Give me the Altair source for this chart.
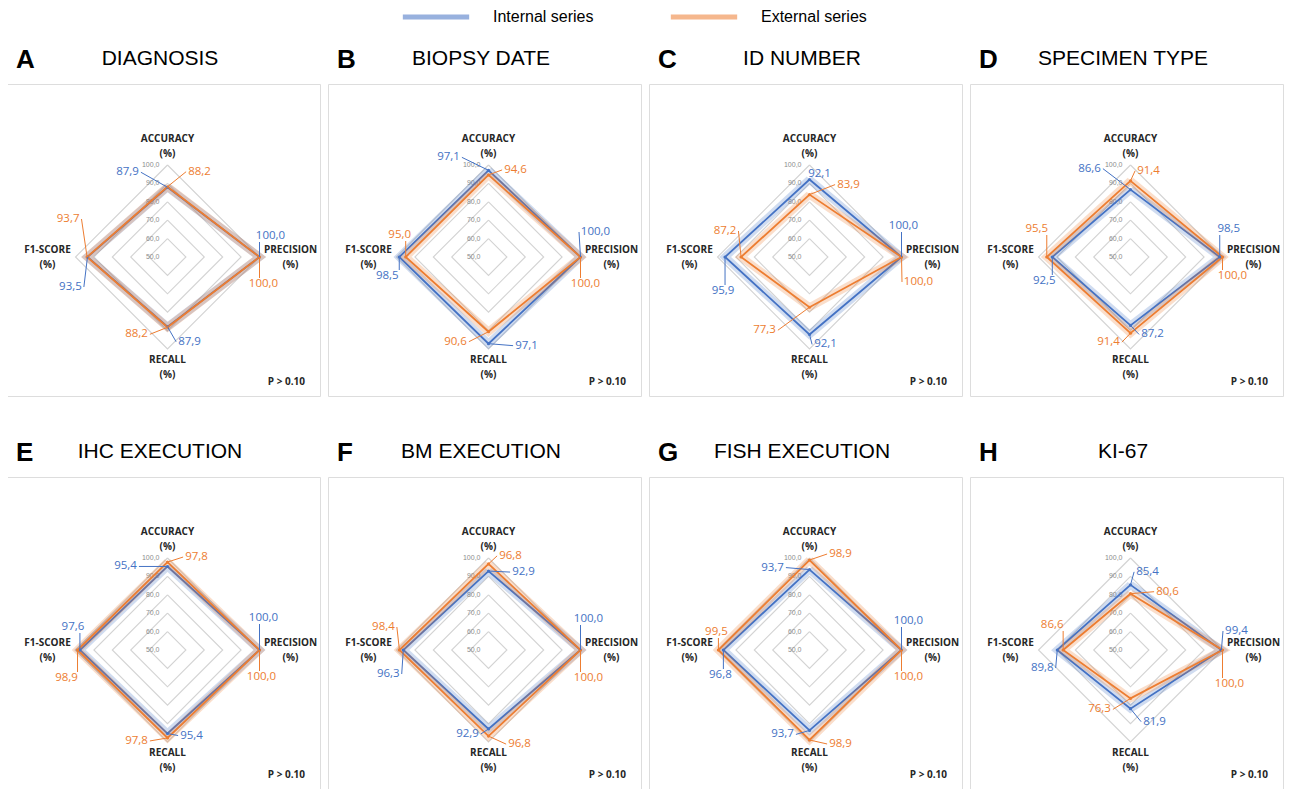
import altair as alt
import pandas as pd

# ---------------- data ----------------
PANEL_LETTERS = ["A", "B", "C", "D", "E", "F", "G", "H"]
PANEL_TITLES = ["DIAGNOSIS", "BIOPSY DATE", "ID NUMBER", "SPECIMEN TYPE",
                "IHC EXECUTION", "BM EXECUTION", "FISH EXECUTION", "KI-67"]
METRICS = ["ACCURACY", "PRECISION", "RECALL", "F1-SCORE"]
SERIES = ["Internal series", "External series"]
INTERNAL = [
    [87.9, 100.0, 87.9, 93.5],
    [97.1, 100.0, 97.1, 98.5],
    [92.1, 100.0, 92.1, 95.9],
    [86.6, 98.5, 87.2, 92.5],
    [95.4, 100.0, 95.4, 97.6],
    [92.9, 100.0, 92.9, 96.3],
    [93.7, 100.0, 93.7, 96.8],
    [85.4, 99.4, 81.9, 89.8],
]
EXTERNAL = [
    [88.2, 100.0, 88.2, 93.7],
    [94.6, 100.0, 90.6, 95.0],
    [83.9, 100.0, 77.3, 87.2],
    [91.4, 100.0, 91.4, 95.5],
    [97.8, 100.0, 97.8, 98.9],
    [96.8, 100.0, 96.8, 98.4],
    [98.9, 100.0, 98.9, 99.5],
    [80.6, 100.0, 76.3, 86.6],
]
P_TEXT = ["P > 0.10"] * 8
RING_LEVELS = [60, 70, 80, 90, 100]
RING_TICKS = [50, 60, 70, 80, 90, 100]
R_MIN = 50

# ---------------- layout / style (not data) ----------------
COLORS = ["#4472C4", "#ED7D31"]
W, H = 313, 312          # panel plot area (px)
CX, CY = 160.5, 173      # radar centre inside panel (px)
PXU = 1.84               # px per value unit
DIR_X = [0, 1, 0, -1]
DIR_Y = [1, 0, -1, 0]
# value-label offsets in px (dx, dy) from each point: [ACC, PREC, REC, F1]
LBL_INT = [
    [(-40, -15), (11, -21), (22, 15), (-17, 30)],
    [(-40, -13), (15, -25), (38, 2), (-12, 19)],
    [(10, -6), (2, -31), (16, 10), (-2, 34)],
    [(-41, -21), (9, -28), (22, 9), (-8, 24)],
    [(-42, 0), (4, -32), (24, 2), (-7, -23)],
    [(35, 1), (8, -31), (-21, 5), (-15, 24)],
    [(-37, -2), (7, -29), (-27, 4), (-3, 25)],
    [(17, -13), (15, -19), (24, 13), (-15, 18)],
]
LBL_EXT = [
    [(32, -15), (4, 27), (-31, 7), (-19, -38)],
    [(27, -5), (5, 27), (-33, 10), (-6, -22)],
    [(39, -10), (17, 25), (-45, 23), (-16, -26)],
    [(18, -10), (10, 19), (-22, 9), (-10, -28)],
    [(29, -5), (2, 27), (-31, 3), (-11, 28)],
    [(22, -8), (8, 28), (31, 8), (-16, -23)],
    [(31, -6), (7, 27), (31, 4), (-2, -18)],
    [(37, -2), (7, 34), (-31, 11), (-11, -25)],
]
# first-line anchor of each two-line axis label (px from radar centre)
AXIS_LBL_PX = [(0, -118), (123, -7), (0, 103), (-120, -7)]
PVAL_PX = (137.5, 125)

XS = alt.Scale(domain=[-CX / PXU, (W - CX) / PXU], nice=False, zero=False)
YS = alt.Scale(domain=[-(H - CY) / PXU, CY / PXU], nice=False, zero=False)

LEG = alt.Legend(title=None, orient="none", legendX=393, legendY=-103,
                 direction="horizontal", symbolType="stroke", symbolStrokeWidth=5,
                 symbolSize=4400, symbolOpacity=0.55, labelFontSize=16,
                 labelFont="Liberation Sans", labelColor="#000000", labelOffset=21,
                 columnPadding=66, padding=0)
COLOR = alt.Color("series:N", scale=alt.Scale(domain=SERIES, range=COLORS), legend=LEG)


def fmt(v):
    return f"{v:.1f}".replace(".", ",")


def sgn(v):
    return 1 if v > 0 else (-1 if v < 0 else 0)


grid_rows = []
for lev in RING_LEVELS:
    for k in range(5):
        m = k % 4
        grid_rows.append({"level": lev, "k": k,
                          "x": (lev - R_MIN) * DIR_X[m], "y": (lev - R_MIN) * DIR_Y[m]})
grid_df = pd.DataFrame(grid_rows)
tick_df = pd.DataFrame({"x": [0] * len(RING_TICKS),
                        "y": [t - R_MIN for t in RING_TICKS],
                        "lab": [fmt(t) for t in RING_TICKS]})
axis_df = pd.DataFrame({
    "x": [p[0] / PXU for p in AXIS_LBL_PX],
    "y": [-p[1] / PXU for p in AXIS_LBL_PX],
    "lab": [m + "\n(%)" for m in METRICS],
})


def X(f="x"):
    return alt.X(f"{f}:Q", scale=XS, axis=None)


def Y(f="y"):
    return alt.Y(f"{f}:Q", scale=YS, axis=None)


def panel(i):
    rows, poly = [], []
    for s, vals, offs in ((SERIES[0], INTERNAL[i], LBL_INT[i]), (SERIES[1], EXTERNAL[i], LBL_EXT[i])):
        for m, v in enumerate(vals):
            x = (v - R_MIN) * DIR_X[m]
            y = (v - R_MIN) * DIR_Y[m]
            dx, dy = offs[m]
            lab = fmt(v)
            hw = len(lab) * 3.1 + 1
            if abs(dx) >= 14:
                ex_px, ey_px = dx - sgn(dx) * hw, dy
            else:
                ex_px, ey_px = 0, dy - sgn(dy) * 6
            rows.append({"series": s, "metric": METRICS[m], "value": v, "x": x, "y": y,
                         "lx": x + dx / PXU, "ly": y - dy / PXU,
                         "ex": x + ex_px / PXU, "ey": y - ey_px / PXU, "lab": lab})
        for k in range(5):
            m = k % 4
            v = vals[m]
            poly.append({"series": s, "k": k, "x": (v - R_MIN) * DIR_X[m], "y": (v - R_MIN) * DIR_Y[m]})
    pts = pd.DataFrame(rows)
    poly = pd.DataFrame(poly)

    grid = alt.Chart(grid_df).mark_line(color="#D3D3D3", strokeWidth=1.1).encode(
        x=X(), y=Y(), detail="level:N", order="k:Q")
    ticks = alt.Chart(tick_df).mark_text(align="right", baseline="middle", dx=-8, fontSize=7,
                                         color="#8C8C8C", font="Liberation Sans").encode(
        x=X(), y=Y(), text="lab:N")
    axl = alt.Chart(axis_df).mark_text(align="center", baseline="middle", lineBreak="\n",
                                       lineHeight=15, fontSize=10, fontWeight="bold",
                                       font="Open Sans", color="#262626").encode(
        x=X(), y=Y(), text="lab:N")
    layers = [grid, ticks, axl]
    for s in SERIES:
        pl = poly[poly.series == s]
        layers.append(alt.Chart(pl).mark_line(strokeWidth=8, opacity=0.25, strokeJoin="miter").encode(
            x=X(), y=Y(), order="k:Q", color=COLOR))
        layers.append(alt.Chart(pl).mark_line(strokeWidth=1.8, strokeJoin="miter").encode(
            x=X(), y=Y(), order="k:Q", color=COLOR))
    layers.append(alt.Chart(pts).mark_point(filled=True, size=10, opacity=1).encode(
        x=X(), y=Y(), color=COLOR))
    layers.append(alt.Chart(pts).mark_rule(strokeWidth=1).encode(
        x=X(), y=Y(), x2="ex:Q", y2="ey:Q", color=COLOR))
    layers.append(alt.Chart(pts).mark_text(align="center", baseline="middle", fontSize=11.5,
                                          font="Open Sans", fontWeight=500).encode(
        x=X("lx"), y=Y("ly"), text="lab:N", color=COLOR))
    pv = pd.DataFrame({"x": [PVAL_PX[0] / PXU], "y": [-PVAL_PX[1] / PXU], "t": [P_TEXT[i]]})
    layers.append(alt.Chart(pv).mark_text(align="right", baseline="middle", fontSize=10,
                                          fontWeight="bold", font="Open Sans", color="#262626").encode(
        x=X(), y=Y(), text="t:N"))
    head = pd.DataFrame({"letter": [PANEL_LETTERS[i]], "title": [PANEL_TITLES[i]]})
    layers.append(alt.Chart(head).mark_text(align="left", baseline="middle", fontSize=26,
                                            fontWeight="bold", font="Liberation Sans", color="#000").encode(
        x=alt.value(9), y=alt.value(-24), text="letter:N"))
    layers.append(alt.Chart(head).mark_text(align="center", baseline="middle", fontSize=21,
                                            font="Liberation Sans", color="#000").encode(
        x=alt.value(153), y=alt.value(-25), text="title:N"))
    return alt.layer(*layers).properties(width=W, height=H)


charts = [panel(i) for i in range(8)]
chart = alt.concat(*charts, columns=4, spacing={"row": 81, "column": 8}, bounds="flush",
                   padding={"left": -2, "top": -27, "right": 0, "bottom": 0}).resolve_scale(
    color="shared").resolve_legend(color="shared").configure_view(
    stroke="#D9D9D9", strokeWidth=1).configure(background="white")

chart.save("out.html", embed_options={"renderer": "svg", "actions": False})
